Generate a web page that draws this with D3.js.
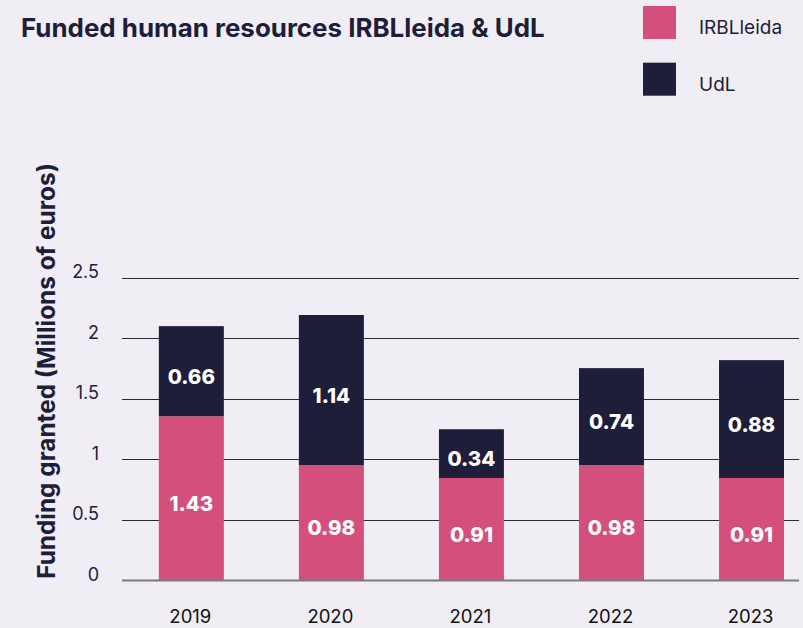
<!DOCTYPE html>
<html>
<head>
<meta charset="utf-8">
<script src="https://cdn.jsdelivr.net/npm/d3@7"></script>
<style>
  html, body { margin: 0; padding: 0; background: #f0edf4; }
  svg { display: block; font-family: Inter, "Open Sans", sans-serif; }
</style>
</head>
<body>
<div id="chart"></div>
<script>
// data
const years = ["2019", "2020", "2021", "2022", "2023"]
const irbValues = [1.353, 0.948, 0.843, 0.948, 0.843]   // bar heights as drawn
const udlValues = [0.745, 1.242, 0.403, 0.803, 0.974]
const irbLabels = ["1.43", "0.98", "0.91", "0.98", "0.91"] // printed numbers
const udlLabels = ["0.66", "1.14", "0.34", "0.74", "0.88"]
const yTicks = [0, 0.5, 1, 1.5, 2, 2.5]
const seriesNames = ["IRBLleida", "UdL"]
const seriesColors = ["#d44f7c", "#1e1d3a"]

const width = 803
const height = 628
const ink = "#1e1d3a"

const svg = d3.select("#chart").append("svg")
    .attr("width", width)
    .attr("height", height)
    .attr("viewBox", [0, 0, width, height])

svg.append("rect").attr("width", width).attr("height", height).attr("fill", "#f0edf4")

// fit a text element to a target width by adjusting its font size
function fitWidth(sel, target) {
    const node = sel.node()
    const fs = parseFloat(sel.attr("font-size"))
    const w = node.getComputedTextLength()
    if (w > 0) sel.attr("font-size", fs * target / w)
}

// scales
const x = d3.scaleBand()
    .domain(years)
    .range([121.3, 121.3 + 5 * 140.05])
    .paddingInner(0.536)
    .paddingOuter(0.268)

const y = d3.scaleLinear()
    .domain([0, 2.5])
    .range([580, 277.5])

// gridlines
svg.append("g")
    .selectAll("line")
    .data(yTicks)
    .join("line")
    .attr("x1", 122)
    .attr("x2", 799)
    .attr("y1", d => Math.round(y(d)) + 0.5)
    .attr("y2", d => Math.round(y(d)) + 0.5)
    .attr("stroke", d => d === 0 ? "#7a7880" : "#2a2a33")
    .attr("stroke-width", d => d === 0 ? 2 : 1.2)

// y tick labels
svg.append("g")
    .selectAll("text")
    .data(yTicks)
    .join("text")
    .attr("x", 99)
    .attr("y", d => y(d) + 0.5)
    .attr("text-anchor", "end")
    .attr("font-size", 18)
    .attr("fill", ink)
    .text(d => d)

// y axis title
const yTitle = svg.append("text")
    .attr("transform", "translate(55,371) rotate(-90)")
    .attr("text-anchor", "middle")
    .attr("font-size", 20)
    .attr("font-weight", 700)
    .attr("fill", ink)
    .text("Funding granted (Millions of euros)")
fitWidth(yTitle, 416)

// stacked data
const rows = years.map((yr, i) => ({ year: yr, IRBLleida: irbValues[i], UdL: udlValues[i] }))
const stack = d3.stack().keys(seriesNames)(rows)
const labels = [irbLabels, udlLabels]

const layer = svg.append("g")
    .selectAll("g")
    .data(stack)
    .join("g")
    .attr("fill", (d, i) => seriesColors[i])

layer.selectAll("rect")
    .data(d => d)
    .join("rect")
    .attr("x", d => x(d.data.year))
    .attr("width", x.bandwidth())
    .attr("y", d => y(d[1]))
    .attr("height", d => y(d[0]) - y(d[1]))

// value labels
stack.forEach((s, si) => {
    svg.append("g")
        .selectAll("text")
        .data(s)
        .join("text")
        .attr("x", d => x(d.data.year) + x.bandwidth() / 2)
        .attr("y", d => (y(d[0]) + y(d[1])) / 2 + 5.5)
        .attr("dy", "0.35em")
        .attr("text-anchor", "middle")
        .attr("font-size", 20.5)
        .attr("font-weight", 800)
        .attr("fill", "#ffffff")
        .text((d, i) => labels[si][i])
})

// x labels
svg.append("g")
    .selectAll("text")
    .data(years)
    .join("text")
    .attr("x", d => x(d) + x.bandwidth() / 2 - 1)
    .attr("y", 622.5)
    .attr("text-anchor", "middle")
    .attr("font-size", 18.5)
    .attr("fill", "#111")
    .text(d => d)

// title
const title = svg.append("text")
    .attr("x", 21)
    .attr("y", 37)
    .attr("font-size", 26)
    .attr("font-weight", 700)
    .attr("fill", ink)
    .text("Funded human resources IRBLleida & UdL")
fitWidth(title, 524)

// legend
const legend = svg.append("g")
    .selectAll("g")
    .data(seriesNames)
    .join("g")
    .attr("transform", (d, i) => `translate(643,${6 + i * 56.7})`)

legend.append("rect")
    .attr("width", 33)
    .attr("height", 33)
    .attr("fill", (d, i) => seriesColors[i])

legend.append("text")
    .attr("x", 56)
    .attr("y", 28)
    .attr("font-size", 19)
    .attr("fill", ink)
    .text(d => d)
</script>
</body>
</html>
